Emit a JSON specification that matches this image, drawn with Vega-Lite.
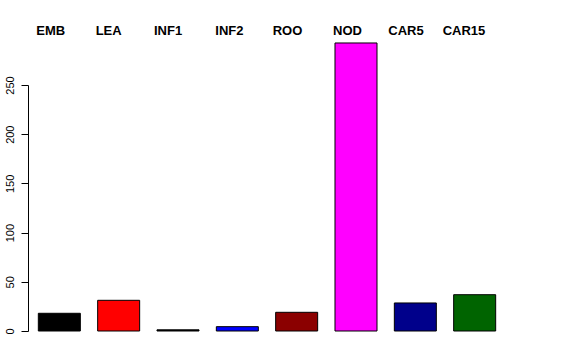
{
  "$schema": "https://vega.github.io/schema/vega-lite/v6.json",
  "autosize": "none",
  "width": 478,
  "height": 246,
  "padding": {"left": 28, "top": 85, "right": 70, "bottom": 29},
  "background": "white",
  "config": {"view": {"stroke": null}, "font": "Liberation Sans"},
  "data": {"values": [
    {"tissue": "EMB", "value": 18.0},
    {"tissue": "LEA", "value": 31.2},
    {"tissue": "INF1", "value": 1.2},
    {"tissue": "INF2", "value": 4.4},
    {"tissue": "ROO", "value": 19.0},
    {"tissue": "NOD", "value": 292.7},
    {"tissue": "CAR5", "value": 28.5},
    {"tissue": "CAR15", "value": 36.9}
  ]},
  "mark": {"type": "bar", "stroke": "black", "strokeWidth": 1, "clip": false},
  "encoding": {
    "x": {
      "field": "tissue", "type": "nominal", "sort": null,
      "scale": {"paddingInner": 0.292, "paddingOuter": 0.174},
      "axis": {
        "orient": "top", "title": null, "domain": false, "ticks": false, "tickSize": 0,
        "labelAngle": 0, "labelAlign": "left", "labelBaseline": "alphabetic",
        "labelOffset": {
          "condition": [
            {"test": "datum.value === 'CAR15'", "value": -32},
            {"test": "datum.value === 'CAR5'", "value": -27},
            {"test": "datum.value === 'INF1'", "value": -24},
            {"test": "datum.value === 'ROO'", "value": -24},
            {"test": "datum.value === 'INF2'", "value": -22}
          ],
          "value": -23
        },
        "labelPadding": 51,
        "labelFont": "Liberation Sans", "labelFontSize": 13, "labelFontWeight": "bold", "labelColor": "black"
      }
    },
    "y": {
      "field": "value", "type": "quantitative",
      "scale": {"domain": [0, 250], "nice": false, "zero": true},
      "axis": {
        "title": null, "grid": false, "values": [0, 50, 100, 150, 200, 250],
        "domainColor": "black", "tickColor": "black", "tickSize": 7, "labelPadding": 6,
        "labelAngle": -90, "labelFont": "Liberation Sans", "labelFontSize": 11, "labelColor": "black"
      }
    },
    "color": {
      "field": "tissue", "type": "nominal", "legend": null,
      "scale": {
        "domain": ["EMB", "LEA", "INF1", "INF2", "ROO", "NOD", "CAR5", "CAR15"],
        "range": ["#000000", "#FF0000", "#000000", "#0000FF", "#8B0000", "#FF00FF", "#00008B", "#006400"]
      }
    }
  }
}
